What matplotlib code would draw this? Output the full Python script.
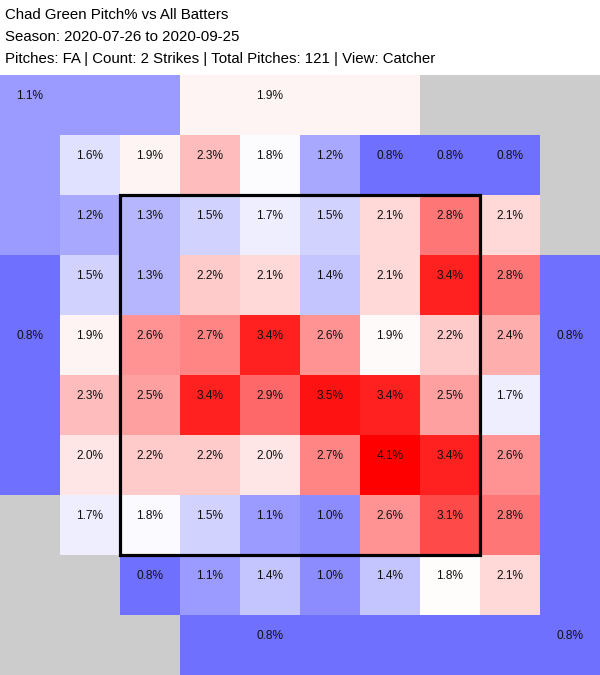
import numpy as np
import matplotlib
matplotlib.use("Agg")
from matplotlib import pyplot as plt
from matplotlib.colors import LinearSegmentedColormap, TwoSlopeNorm
from matplotlib.patches import Rectangle

plt.rcParams['font.family'] = ['Liberation Sans', 'DejaVu Sans']

title_lines = [
    "Chad Green Pitch% vs All Batters",
    "Season: 2020-07-26 to 2020-09-25",
    "Pitches: FA | Count: 2 Strikes | Total Pitches: 121 | View: Catcher",
]

# pitch % per zone, catcher view, 8x8 inner grid (top row first)
inner_pct = [
    [1.6, 1.9, 2.3, 1.8, 1.2, 0.8, 0.8, 0.8],
    [1.2, 1.3, 1.5, 1.7, 1.5, 2.1, 2.8, 2.1],
    [1.5, 1.3, 2.2, 2.1, 1.4, 2.1, 3.4, 2.8],
    [1.9, 2.6, 2.7, 3.4, 2.6, 1.86, 2.2, 2.4],
    [2.3, 2.5, 3.4, 2.9, 3.5, 3.4, 2.5, 1.7],
    [2.0, 2.2, 2.2, 2.0, 2.7, 4.1, 3.4, 2.6],
    [1.7, 1.78, 1.5, 1.1, 1.0, 2.6, 3.1, 2.8],
    [np.nan, 0.8, 1.1, 1.4, 1.0, 1.4, 1.84, 2.1],
]

# outer zones: rows top/mid/bottom, cols left/mid/right (no centre)
outer_pct = [
    [1.1, 1.9, np.nan],
    [0.8, None, 0.8],
    [np.nan, 0.8, 0.8],
]

mid_pct = 1.82  # white point of the colour scale

n = 10
grid = np.full((n, n), np.nan)
grid[1:9, 1:9] = np.array(inner_pct, dtype=float)


def band(i):
    return 0 if i < 3 else (2 if i > 6 else 1)


for r in range(n):
    for c in range(n):
        if r in (0, n - 1) or c in (0, n - 1):
            v = outer_pct[band(r)][band(c)]
            grid[r, c] = np.nan if v is None else v

cmap = LinearSegmentedColormap.from_list("bwr2", ["#0000ff", "#ffffff", "#ff0000"])
cmap.set_bad("#cccccc")
norm = TwoSlopeNorm(vmin=0, vcenter=mid_pct, vmax=2 * mid_pct)

fig = plt.figure(figsize=(6, 6.75), dpi=100)
ax = fig.add_axes([0, 0, 1, 600 / 675])
ax.pcolormesh(np.arange(n + 1), np.arange(n + 1), np.ma.masked_invalid(grid),
              cmap=cmap, norm=norm)
ax.set_xlim(0, n)
ax.set_ylim(n, 0)
ax.axis('off')

# strike zone
ax.add_patch(Rectangle((2, 2), 6, 6, fill=False, edgecolor='black', lw=2.3, zorder=5))

dy = 0.35
for r in range(8):
    for c in range(8):
        v = inner_pct[r][c]
        if not np.isnan(v):
            ax.text(c + 1.5, r + 1 + dy, "%.1f%%" % v, ha='center', va='center',
                    fontsize=8.6, color='#111111')

anchor = [0, 4, 9]
for i in range(3):
    for j in range(3):
        v = outer_pct[i][j]
        if v is None or np.isnan(v):
            continue
        ax.text(anchor[j] + 0.5, anchor[i] + dy, "%.1f%%" % v, ha='center', va='center',
                fontsize=8.6, color='#111111')

for k, line in enumerate(title_lines):
    fig.text(5 / 600, 1 - (15 + 22 * k) / 675, line, ha='left', va='center',
             fontsize=10.8, color='black')

fig.savefig("out.png", dpi=100)
